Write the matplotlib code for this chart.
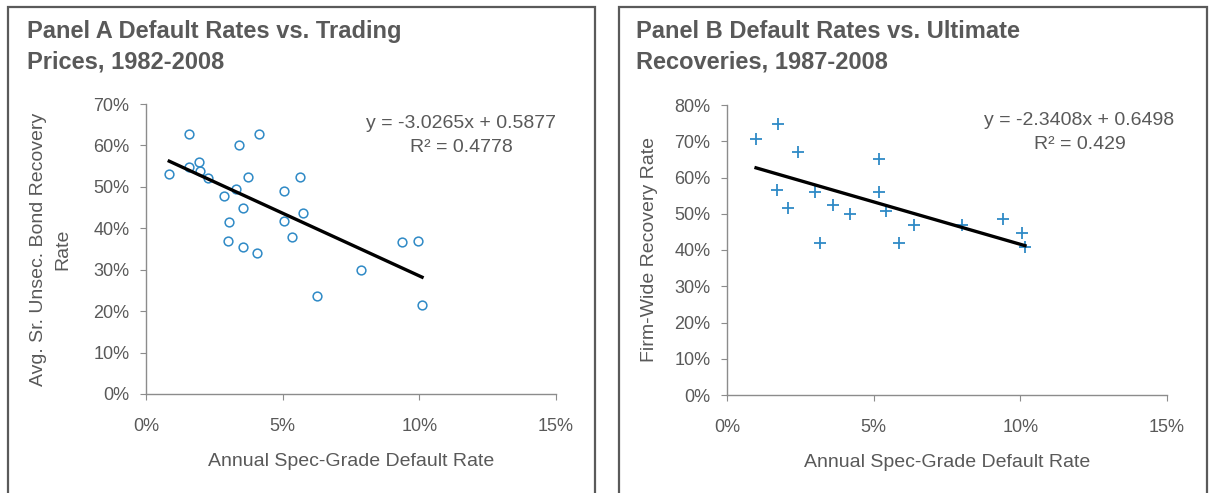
import numpy as np
import matplotlib.pyplot as plt
from matplotlib.patches import Rectangle
from matplotlib.ticker import PercentFormatter

plt.rcParams['font.family'] = ['Liberation Sans', 'DejaVu Sans']

# Panel A: default rate vs. avg. sr. unsecured bond recovery (trading prices), in %
a_default = [0.85, 1.58, 1.58, 1.93, 1.99, 2.27, 2.86, 3.28, 3.39, 4.13, 3.72, 3.54, 3.05,
             2.99, 3.54, 4.05, 5.06, 5.62, 5.06, 5.73, 5.33, 6.27, 7.88, 9.37, 9.96, 10.10]
a_recovery = [53.0, 62.7, 54.9, 56.1, 53.8, 52.1, 47.7, 49.6, 60.0, 62.7, 52.5, 45.0, 41.4,
              37.0, 35.6, 34.0, 48.9, 52.5, 41.8, 43.6, 37.9, 23.7, 29.9, 36.6, 37.0, 21.6]
a_slope, a_icept, a_r2 = -3.0265, 0.5877, 0.4778

# Panel B: default rate vs. firm-wide ultimate recovery, in %
b_default = [0.99, 1.75, 2.43, 1.69, 2.07, 3.00, 3.17, 3.62, 4.19, 5.19,
             5.19, 5.42, 5.87, 6.38, 8.02, 9.42, 10.05, 10.16]
b_recovery = [70.6, 74.7, 67.1, 56.6, 51.5, 56.1, 41.8, 52.4, 50.0, 65.1,
              55.9, 50.8, 41.8, 46.9, 46.9, 48.5, 44.6, 40.8]
b_slope, b_icept, b_r2 = -2.3408, 0.6498, 0.429

txt = '#595959'
blue = '#2F8AC6'
axc = '#8C8C8C'

fig = plt.figure(figsize=(12.11, 4.93), dpi=100)

# panel frames (bottom edge is cut off in the original)
for x0, x1 in [(8, 595), (619, 1207)]:
    fig.patches.append(Rectangle((x0 / 1211, -0.1), (x1 - x0) / 1211, (493 - 7) / 493 + 0.1,
                                 transform=fig.transFigure, fill=False,
                                 edgecolor='#5A5A5A', linewidth=1.6, clip_on=False))

axA = fig.add_axes([146 / 1211, 99 / 493, 410 / 1211, 290 / 493])
axB = fig.add_axes([727 / 1211, 98 / 493, 440 / 1211, 290 / 493])


def style(ax, ymax):
    ax.set_xlim(0, 15)
    ax.set_ylim(0, ymax)
    ax.set_xticks([0, 5, 10, 15])
    ax.set_yticks(np.arange(0, ymax + 1, 10))
    ax.xaxis.set_major_formatter(PercentFormatter(decimals=0))
    ax.yaxis.set_major_formatter(PercentFormatter(decimals=0))
    for s in ['top', 'right']:
        ax.spines[s].set_visible(False)
    for s in ['left', 'bottom']:
        ax.spines[s].set_color(axc)
        ax.spines[s].set_linewidth(1.0)
    ax.tick_params(axis='x', direction='out', length=4, color=axc, pad=13,
                   labelsize=13, labelcolor=txt)
    ax.tick_params(axis='y', direction='out', length=4, color=axc, pad=8,
                   labelsize=13, labelcolor=txt)
    ax.set_xlabel('Annual Spec-Grade Default Rate', fontsize=14, color=txt, va='center')
    ax.xaxis.set_label_coords(0.5, -0.234)


style(axA, 70)
style(axB, 80)

# Panel A
axA.plot(a_default, a_recovery, 'o', markersize=6.3, markerfacecolor='none',
         markeredgecolor=blue, markeredgewidth=1.1, clip_on=False)
xa = np.array([min(a_default), max(a_default)])
axA.plot(xa, (a_slope * xa / 100 + a_icept) * 100, color='black', linewidth=2.4)
axA.text(0.768, 0.89, f'y = {a_slope}x + {a_icept}\nR² = {a_r2}', transform=axA.transAxes,
         ha='center', va='center', multialignment='center', fontsize=14,
         color=txt, linespacing=1.55)
axA.set_ylabel('Avg. Sr. Unsec. Bond Recovery\nRate', fontsize=14, color=txt, va='center',
               multialignment='center', linespacing=1.6)
axA.yaxis.set_label_coords(-0.232, 0.5)

# Panel B
axB.plot(b_default, b_recovery, '+', markersize=8, markeredgecolor=blue,
         markeredgewidth=1.3, clip_on=False)
xb = np.array([min(b_default), max(b_default)])
axB.plot(xb, (b_slope * xb / 100 + b_icept) * 100, color='black', linewidth=2.4)
axB.text(0.801, 0.905, f'y = {b_slope}x + {b_icept}\nR² = {b_r2}', transform=axB.transAxes,
         ha='center', va='center', multialignment='center', fontsize=14,
         color=txt, linespacing=1.55)
axB.set_ylabel('Firm-Wide Recovery Rate', fontsize=14, color=txt, va='center')
axB.yaxis.set_label_coords(-0.175, 0.5)

# titles
fig.text(27 / 1211, 1 - 20 / 493, 'Panel A Default Rates vs. Trading\nPrices, 1982-2008',
         ha='left', va='top', fontsize=17, fontweight='bold', color=txt, linespacing=1.4)
fig.text(636 / 1211, 1 - 20 / 493, 'Panel B Default Rates vs. Ultimate\nRecoveries, 1987-2008',
         ha='left', va='top', fontsize=17, fontweight='bold', color=txt, linespacing=1.4)

fig.savefig('out.png', dpi=100)
